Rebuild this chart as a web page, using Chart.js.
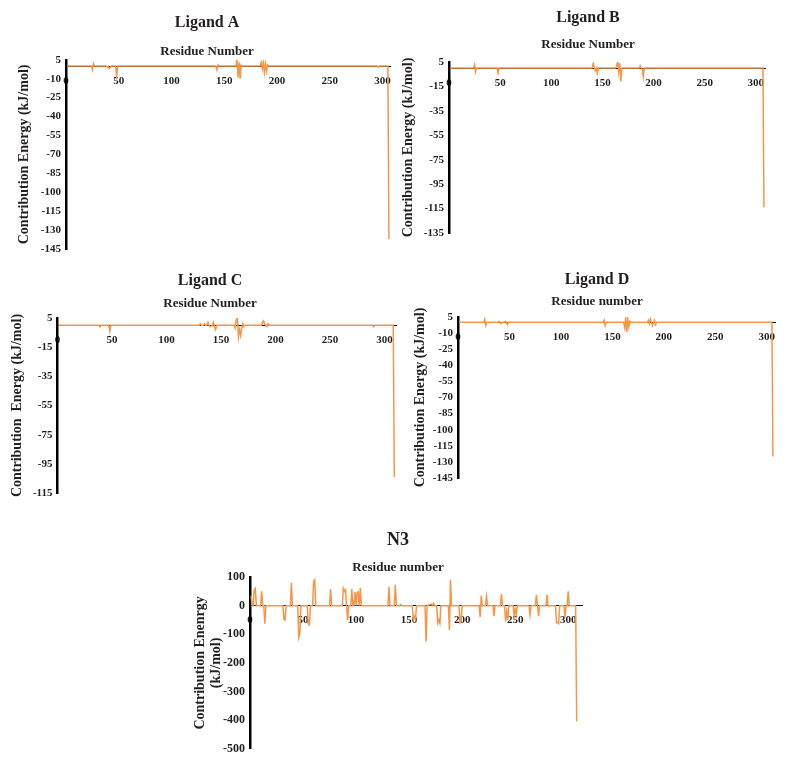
<!DOCTYPE html>
<html>
<head>
<meta charset="utf-8">
<script src="https://cdn.jsdelivr.net/npm/chart.js@4.4.0/dist/chart.umd.min.js"></script>
<style>
  html, body { margin: 0; padding: 0; background: #fff; }
  body { position: relative; width: 789px; height: 766px; overflow: hidden; }
  canvas { position: absolute; }
</style>
</head>
<body>
<canvas id="chart-a" width="410" height="261" style="left:0px;top:0px"></canvas>
<canvas id="chart-b" width="395" height="245" style="left:390px;top:0px"></canvas>
<canvas id="chart-c" width="417" height="245" style="left:0px;top:260px"></canvas>
<canvas id="chart-d" width="399" height="230" style="left:390px;top:260px"></canvas>
<canvas id="chart-n3" width="422" height="261" style="left:180px;top:500px"></canvas>
<script>
// ====== data (residue number -> contribution energy, kJ/mol) ======
const xTicks = [0, 50, 100, 150, 200, 250, 300];

const resA = [1, 24, 25, 26, 27, 38, 39, 40, 41, 42, 43, 47, 48, 49, 142, 143, 144, 145, 161, 162, 163, 164, 165, 166, 167, 184, 185, 186, 187, 188, 189, 190, 191, 192, 295, 296, 297, 305, 306];
const enA  = [0, 0, -3, 2, 0, 0, -1, 0, -2, -1, 0, 0, -8, 0, 0, -3, 1, 0, 0, 5, -9, 3, -10, 1, 0, 0, 3, -2, 3, -5, 2, -4, 1, 0, 0, -1, 0, 0, -137];
const yTicksA = [5, -10, -25, -40, -55, -70, -85, -100, -115, -130, -145];

const resB = [1, 24, 25, 26, 27, 47, 48, 49, 140, 141, 142, 143, 144, 145, 146, 163, 164, 165, 166, 167, 168, 169, 186, 187, 188, 189, 190, 191, 307, 308];
const enB  = [0, 0, 3, -3, 0, 0, -4, 0, 0, 4, 1, -2, 0, -4, 0, 0, 2, 6, -3, 4, -11, 0, 0, 2, 0, -1, -7, 0, 0, -114];
const yTicksB = [5, -15, -35, -55, -75, -95, -115, -135];

const resC = [1, 38, 39, 40, 47, 48, 49, 130, 131, 132, 134, 135, 136, 137, 138, 139, 140, 142, 143, 144, 145, 146, 162, 163, 164, 165, 166, 167, 168, 169, 170, 171, 172, 187, 188, 189, 190, 191, 192, 193, 194, 289, 290, 291, 308, 309];
const enC  = [0, 0, -1, 0, 0, -4, 0, 0, 1, 0, 0, 1, 0, 0, 2, 0, -1, 0, 2, -1, -3, 0, 0, -2, 4, 5, -8, -3, -7, -2, 1, -1, 0, 0, 2, 3, 1, 0, -1, 1, 0, 0, -1, 0, 0, -104];
const yTicksC = [5, -15, -35, -55, -75, -95, -115];

const resD = [1, 25, 26, 27, 28, 39, 40, 41, 42, 43, 45, 46, 47, 48, 49, 141, 142, 143, 144, 161, 162, 163, 164, 165, 166, 167, 168, 184, 185, 186, 187, 188, 189, 190, 191, 192, 193, 305, 306];
const enD  = [0, 0, 3, -3, 0, 0, 1, 0, -1, 0, 0, 1, 0, -2, 0, 0, 2, -3, 0, 0, -5, 5, -9, 3, -4, 1, 0, 0, 2, -1, 3, 0, -3, 0, 2, -2, 0, 0, -125];
const yTicksD = [5, -10, -25, -40, -55, -70, -85, -100, -115, -130, -145];

const resN3 = [1, 2, 3, 4, 5, 6, 10, 11, 12, 13, 14, 15, 31, 32, 33, 34, 38, 39, 40, 45, 46, 47, 48,
  54, 55, 56, 57, 59, 60, 61, 62, 75, 76, 77, 87, 88, 89, 90, 91, 92, 93, 95, 96, 97, 98, 99, 100,
  101, 102, 103, 104, 105, 130, 131, 132, 136, 137, 138, 141, 142, 143, 153, 154, 155, 156, 157,
  165, 166, 167, 171, 172, 173, 174, 176, 177, 178, 179, 180, 187, 188, 189, 190, 197, 198, 199, 200,
  216, 217, 218, 219, 222, 223, 224, 229, 230, 231, 236, 237, 238, 240, 241, 242, 243, 244,
  248, 249, 250, 251, 252, 263, 264, 265, 269, 270, 271, 272, 273, 279, 280, 281,
  288, 289, 290, 291, 292, 296, 297, 298, 299, 300, 301, 307, 308];
const enN3 = [35, 0, 0, 55, 60, 0, 0, 50, 0, 0, -63, 0, 0, -48, -50, 0, 0, 80, 0, 0, -110, -95, 0,
  0, -65, -68, 0, 0, 85, 90, 0, 0, 58, 0, 0, 60, 50, 55, 0, -50, 0, 0, 58, 0, 0, 48, 0,
  45, 48, 0, 62, 0, 0, 65, 0, 0, 73, 0, 0, 4, 0, 0, -50, -38, -48, 0,
  0, -125, 0, 5, 0, 8, 0, 0, -60, -50, -62, 0, 0, -85, 90, 0, 0, -60, -55, 0,
  0, -40, 35, 0, 0, 33, 0, 0, -37, 0, 0, 40, 0, 0, -55, -20, -50, 0,
  0, -37, -10, -32, 0, 0, -32, 0, 0, 38, 0, -37, 0, 0, 38, 0,
  0, -60, -58, -62, 0, 0, -40, 0, 0, 50, 0, 0, -405];
const yTicksN3 = [100, 0, -100, -200, -300, -400, -500];

// ====== styles ======
const FONT = "'Liberation Serif', 'Times New Roman', serif";
const TEXT = "#231f20";
const LINE = "#F79646";
Chart.defaults.font.family = FONT;
Chart.defaults.color = TEXT;

// ====== one panel ======
function drawPanel(id, res, en, yTicks, cfg) {
  const ctx = document.getElementById(id);
  return new Chart(ctx, {
    type: "line",
    data: {
      datasets: [{
        data: res.map((r, i) => ({ x: r, y: en[i] })),
        borderColor: LINE,
        borderWidth: 1.5,
        pointRadius: 0,
        tension: 0,
        fill: false
      }]
    },
    options: {
      responsive: false,
      animation: false,
      layout: { padding: cfg.padding },
      plugins: {
        legend: { display: false },
        tooltip: { enabled: false },
        title: {
          display: true,
          text: cfg.title,
          color: TEXT,
          font: { size: cfg.titleSize, weight: "bold", lineHeight: 1.2 },
          padding: cfg.titlePad
        },
        subtitle: {
          display: true,
          text: cfg.subtitle,
          color: TEXT,
          font: { size: 13, weight: "bold", lineHeight: 1.2 },
          padding: cfg.subPad
        }
      },
      scales: {
        x: {
          type: "linear",
          min: 0,
          max: cfg.xMax,
          position: { y: 0 },
          afterBuildTicks: s => { s.ticks = xTicks.map(v => ({ value: v })); },
          grid: { display: false, drawTicks: false },
          border: { display: true, color: "#000", width: 1 },
          ticks: { padding: 8, autoSkip: false, maxRotation: 0, font: { size: 11, weight: "bold" } }
        },
        y: {
          type: "linear",
          min: yTicks[yTicks.length - 1],
          max: yTicks[0],
          afterBuildTicks: s => { s.ticks = yTicks.map(v => ({ value: v })); },
          afterFit: s => { s.width = cfg.yWidth; },
          grid: { display: false, drawTicks: false },
          border: { display: true, color: "#000", width: 2.5 },
          ticks: { padding: 5, autoSkip: false, font: { size: cfg.yTickSize, weight: "bold" } },
          title: {
            display: true,
            text: cfg.yTitle,
            font: { size: 14, weight: "bold", lineHeight: 1.2 },
            padding: { top: cfg.yTitlePad, bottom: 0 }
          }
        }
      }
    }
  });
}

drawPanel("chart-a", resA, enA, yTicksA, {
  title: "Ligand A", titleSize: 16, titlePad: { top: 13.4, bottom: 11.6 },
  subtitle: "Residue Number", subPad: { top: 0, bottom: 0 },
  yTitle: "Contribution Energy (kJ/mol)", yTitlePad: -8.4, yTickSize: 11,
  padding: { left: 24, right: 20, top: 0, bottom: 12 }, yWidth: 42, xMax: 307
});

drawPanel("chart-b", resB, enB, yTicksB, {
  title: "Ligand B", titleSize: 16, titlePad: { top: 8.4, bottom: 9.6 },
  subtitle: "Residue Number", subPad: { top: 0, bottom: 9.2 },
  yTitle: "Contribution Energy (kJ/mol)", yTitlePad: -11.4, yTickSize: 11,
  padding: { left: 21, right: 20, top: 0, bottom: 12 }, yWidth: 38, xMax: 309
});

drawPanel("chart-c", resC, enC, yTicksC, {
  title: "Ligand C", titleSize: 16, titlePad: { top: 10.9, bottom: 6.1 },
  subtitle: "Residue Number", subPad: { top: 0, bottom: 6.2 },
  yTitle: "Contribution  Energy (kJ/mol)", yTitlePad: -14.9, yTickSize: 11,
  padding: { left: 23.5, right: 20.5, top: 0, bottom: 12 }, yWidth: 34, xMax: 311
});

drawPanel("chart-d", resD, enD, yTicksD, {
  title: "Ligand D", titleSize: 16, titlePad: { top: 10.4, bottom: 4.6 },
  subtitle: "Residue number", subPad: { top: 0, bottom: 7.2 },
  yTitle: "Contribution Energy (kJ/mol)", yTitlePad: -7.4, yTickSize: 11,
  padding: { left: 29, right: 14, top: 0, bottom: 12 }, yWidth: 39, xMax: 308
});

drawPanel("chart-n3", resN3, enN3, yTicksN3, {
  title: "N3", titleSize: 18, titlePad: { top: 29.2, bottom: 9.4 },
  subtitle: "Residue number", subPad: { top: 0, bottom: 1.2 },
  yTitle: ["Contribution Enenrgy", "(kJ/mol)"], yTitlePad: -22.4, yTickSize: 12,
  padding: { left: 34, right: 20, top: 0, bottom: 12 }, yWidth: 36, xMax: 313
});
</script>
</body>
</html>
